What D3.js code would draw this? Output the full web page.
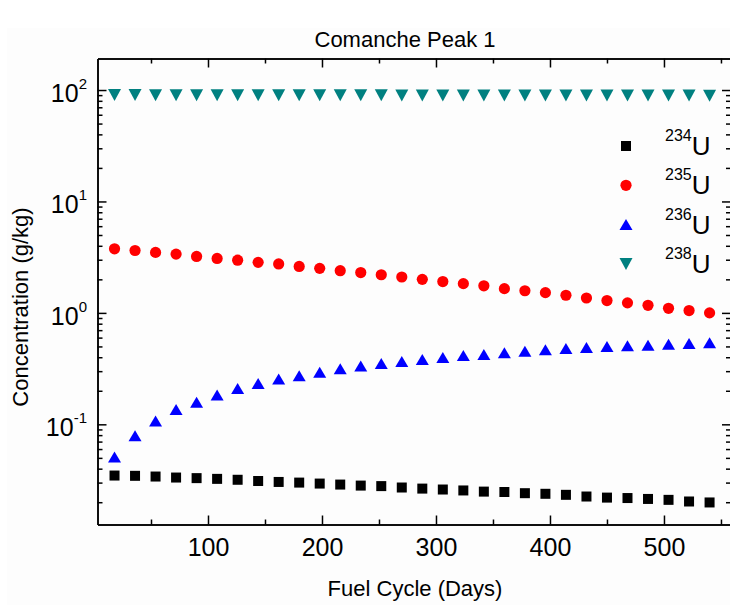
<!DOCTYPE html>
<html>
<head>
<meta charset="utf-8">
<script src="https://cdn.jsdelivr.net/npm/d3@7"></script>
<style>
  body { margin: 0; background: #fff; }
  svg text { font-family: "Liberation Sans", Arial, sans-serif; fill: #000; }
</style>
</head>
<body>
<div id="chart"></div>
<script>
// data (days, g/kg)
const days = [18, 36, 54, 72, 90, 108, 126, 144, 162, 180, 198, 216, 234, 252, 270,
    288, 306, 324, 342, 360, 378, 396, 414, 432, 450, 468, 486, 504, 522, 540];

const u234 = [0.0347, 0.0345, 0.0340, 0.0333, 0.0329, 0.0324, 0.0318, 0.0310, 0.0304, 0.0300,
    0.0294, 0.0288, 0.0282, 0.0279, 0.0271, 0.0265, 0.0260, 0.0255, 0.0249, 0.0247,
    0.0241, 0.0238, 0.0233, 0.0225, 0.0220, 0.0218, 0.0214, 0.0210, 0.0203, 0.0199];

const u235 = [3.76, 3.63, 3.49, 3.37, 3.21, 3.08, 2.97, 2.84, 2.75, 2.61,
    2.51, 2.39, 2.30, 2.20, 2.10, 2.00, 1.91, 1.83, 1.75, 1.65,
    1.58, 1.52, 1.44, 1.36, 1.29, 1.23, 1.17, 1.10, 1.05, 1.00];

const u236 = [0.051, 0.079, 0.107, 0.136, 0.158, 0.183, 0.210, 0.233, 0.255, 0.273,
    0.294, 0.315, 0.333, 0.352, 0.366, 0.382, 0.398, 0.415, 0.423, 0.438,
    0.453, 0.466, 0.479, 0.489, 0.499, 0.507, 0.513, 0.524, 0.531, 0.539];

const u238 = [90.0, 90.0, 89.9, 89.9, 89.9, 89.8, 89.8, 89.8, 89.7, 89.7,
    89.7, 89.6, 89.6, 89.6, 89.5, 89.5, 89.5, 89.4, 89.4, 89.4,
    89.3, 89.3, 89.3, 89.2, 89.2, 89.2, 89.1, 89.1, 89.1, 89.0];

const isotopes = ["234", "235", "236", "238"];
const xTicks = [100, 200, 300, 400, 500];
const xMinor = [50, 150, 250, 350, 450, 550];
const yTicks = [0.1, 1, 10, 100];
const yExp = ["-1", "0", "1", "2"];

const width = 730, height = 605;
const plotLeft = 97.5, plotRight = 731, plotTop = 58.5, plotBottom = 524.5;

const svg = d3.select("#chart")
    .append("svg")
    .attr("width", width)
    .attr("height", height);

svg.append("rect")
    .attr("x", 7).attr("y", 28)
    .attr("width", width).attr("height", height)
    .attr("fill", "#fdfdfd");

const x = d3.scaleLinear().domain([3.07, 558.8]).range([plotLeft, plotRight]);
const y = d3.scaleLog().domain([0.01262, 191.8]).range([plotBottom, plotTop]);

// minor y ticks: 2..9 per decade
const yMinor = [];
[0.01, 0.1, 1, 10, 100].forEach(d => {
    for (let k = 2; k <= 9; k++) {
        const v = d * k;
        if (v > y.domain()[0] && v < y.domain()[1]) yMinor.push(v);
    }
});

function styleAxis(g) {
    g.select(".domain").attr("stroke", "#000").attr("stroke-width", 1.5);
    g.selectAll(".tick line").attr("stroke", "#000").attr("stroke-width", 1.5);
}

// bottom axis (ticks point inward)
svg.append("g")
    .attr("transform", `translate(0,${plotBottom})`)
    .call(d3.axisBottom(x).tickValues(xTicks).tickSize(-9).tickSizeOuter(0).tickPadding(14))
    .call(styleAxis)
    .call(g => g.selectAll(".tick text").style("font-size", "25px").attr("fill", "#000")
        .style("font-family", "'Liberation Sans', Arial, sans-serif"));
svg.append("g")
    .attr("transform", `translate(0,${plotBottom})`)
    .call(d3.axisBottom(x).tickValues(xMinor).tickSize(-5).tickSizeOuter(0).tickFormat(""))
    .call(styleAxis);

// top axis
svg.append("g")
    .attr("transform", `translate(0,${plotTop})`)
    .call(d3.axisTop(x).tickValues(xTicks).tickSize(-9).tickSizeOuter(0).tickFormat(""))
    .call(styleAxis);
svg.append("g")
    .attr("transform", `translate(0,${plotTop})`)
    .call(d3.axisTop(x).tickValues(xMinor).tickSize(-5).tickSizeOuter(0).tickFormat(""))
    .call(styleAxis);

// left axis
svg.append("g")
    .attr("transform", `translate(${plotLeft},0)`)
    .call(d3.axisLeft(y).tickValues(yTicks).tickSize(-9).tickSizeOuter(0).tickFormat(""))
    .call(styleAxis);
svg.append("g")
    .attr("transform", `translate(${plotLeft},0)`)
    .call(d3.axisLeft(y).tickValues(yMinor).tickSize(-5).tickSizeOuter(0).tickFormat(""))
    .call(styleAxis);

// right axis
svg.append("g")
    .attr("transform", `translate(${plotRight},0)`)
    .call(d3.axisRight(y).tickValues(yTicks).tickSize(-9).tickSizeOuter(0).tickFormat(""))
    .call(styleAxis);
svg.append("g")
    .attr("transform", `translate(${plotRight},0)`)
    .call(d3.axisRight(y).tickValues(yMinor).tickSize(-5).tickSizeOuter(0).tickFormat(""))
    .call(styleAxis);

// y tick labels as 10^n
yTicks.forEach((t, i) => {
    const lab = svg.append("text")
        .attr("x", 87)
        .attr("y", y(t) + 11.7)
        .attr("text-anchor", "end")
        .style("font-size", "25px");
    lab.append("tspan").text("10");
    lab.append("tspan")
        .attr("dy", -13)
        .style("font-size", "15px")
        .text(yExp[i]);
});

// titles
svg.append("text")
    .attr("x", 405).attr("y", 46.5)
    .attr("text-anchor", "middle")
    .style("font-size", "22px")
    .text("Comanche Peak 1");

svg.append("text")
    .attr("x", 415).attr("y", 596)
    .attr("text-anchor", "middle")
    .style("font-size", "22px")
    .text("Fuel Cycle (Days)");

svg.append("text")
    .attr("transform", "translate(28,307) rotate(-90)")
    .attr("text-anchor", "middle")
    .style("font-size", "22px")
    .text("Concentration (g/kg)");

// marker shapes centred on their bounding box
const colors = ["#000000", "#ff0000", "#0000ff", "#008080"];
function marker(g, kind, cx, cy, color) {
    if (kind === 0) {
        g.append("rect")
            .attr("x", cx - 5).attr("y", cy - 5)
            .attr("width", 10).attr("height", 10)
            .attr("fill", color);
    } else if (kind === 1) {
        g.append("circle")
            .attr("cx", cx).attr("cy", cy).attr("r", 5.6)
            .attr("fill", color);
    } else if (kind === 2) {
        g.append("path")
            .attr("d", `M${cx},${cy - 5.5}L${cx + 6.5},${cy + 5.5}L${cx - 6.5},${cy + 5.5}Z`)
            .attr("fill", color);
    } else {
        g.append("path")
            .attr("d", `M${cx - 6.5},${cy - 6}L${cx + 6.5},${cy - 6}L${cx},${cy + 6}Z`)
            .attr("fill", color);
    }
}

const series = [u234, u235, u236, u238];
const points = svg.append("g");
series.forEach((vals, s) => {
    vals.forEach((v, i) => marker(points, s, x(days[i]), y(v), colors[s]));
});

// legend
const legend = svg.append("g");
isotopes.forEach((iso, i) => {
    const ly = 146 + i * 39.3;
    marker(legend, i, 626, ly, colors[i]);
    const t = legend.append("text")
        .attr("x", 665)
        .attr("y", ly + 9);
    t.append("tspan").style("font-size", "16px").attr("dy", -14).text(iso);
    t.append("tspan").style("font-size", "26px").attr("dy", 14).text("U");
});
</script>
</body>
</html>
